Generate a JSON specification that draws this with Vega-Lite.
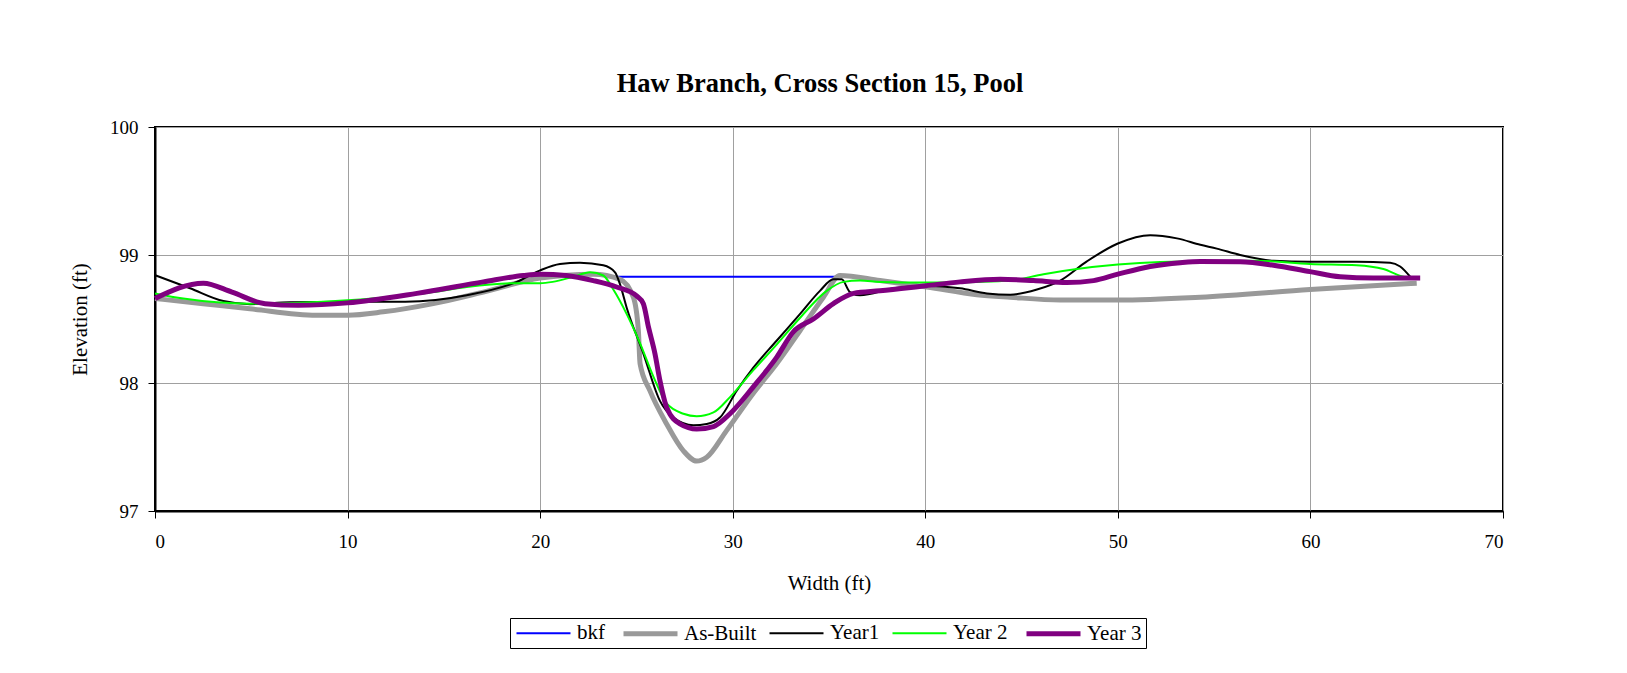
{
  "$schema": "https://vega.github.io/schema/vega-lite/v6.json",
  "width": 1348,
  "height": 384,
  "autosize": {"type": "none"},
  "padding": {"left": 155, "top": 127, "right": 124, "bottom": 162},
  "background": "white",
  "title": {
    "text": "Haw Branch, Cross Section 15, Pool",
    "font": "Liberation Serif",
    "fontSize": 26.5,
    "fontWeight": "bold",
    "color": "black",
    "anchor": "middle",
    "baseline": "alphabetic",
    "offset": 0,
    "dx": -9
  },
  "data": {
    "values": [
      {"s": "bkf", "x": 23.8, "y": 98.83},
      {"s": "bkf", "x": 35.5, "y": 98.83},

      {"s": "As-Built", "x": 0, "y": 98.66},
      {"s": "As-Built", "x": 2.5, "y": 98.62},
      {"s": "As-Built", "x": 4.93, "y": 98.58},
      {"s": "As-Built", "x": 8.38, "y": 98.53},
      {"s": "As-Built", "x": 10, "y": 98.53},
      {"s": "As-Built", "x": 11.85, "y": 98.556},
      {"s": "As-Built", "x": 14.45, "y": 98.62},
      {"s": "As-Built", "x": 17.05, "y": 98.71},
      {"s": "As-Built", "x": 20, "y": 98.82},
      {"s": "As-Built", "x": 22.76, "y": 98.85},
      {"s": "As-Built", "x": 24.15, "y": 98.81},
      {"s": "As-Built", "x": 24.84, "y": 98.67},
      {"s": "As-Built", "x": 25.1, "y": 98.41},
      {"s": "As-Built", "x": 25.19, "y": 98.15},
      {"s": "As-Built", "x": 25.7, "y": 97.94},
      {"s": "As-Built", "x": 26.57, "y": 97.68},
      {"s": "As-Built", "x": 27.44, "y": 97.47},
      {"s": "As-Built", "x": 28.13, "y": 97.39},
      {"s": "As-Built", "x": 28.65, "y": 97.42},
      {"s": "As-Built", "x": 29.69, "y": 97.63},
      {"s": "As-Built", "x": 31.07, "y": 97.92},
      {"s": "As-Built", "x": 32.28, "y": 98.15},
      {"s": "As-Built", "x": 33.5, "y": 98.41},
      {"s": "As-Built", "x": 34.71, "y": 98.67},
      {"s": "As-Built", "x": 35.57, "y": 98.84},
      {"s": "As-Built", "x": 37.65, "y": 98.8},
      {"s": "As-Built", "x": 40.08, "y": 98.75},
      {"s": "As-Built", "x": 42.68, "y": 98.69},
      {"s": "As-Built", "x": 44.41, "y": 98.67},
      {"s": "As-Built", "x": 47.01, "y": 98.648},
      {"s": "As-Built", "x": 50, "y": 98.648},
      {"s": "As-Built", "x": 54.28, "y": 98.67},
      {"s": "As-Built", "x": 59.98, "y": 98.73},
      {"s": "As-Built", "x": 65.52, "y": 98.78},

      {"s": "Year1", "x": 0, "y": 98.842},
      {"s": "Year1", "x": 1.82, "y": 98.74},
      {"s": "Year1", "x": 3.55, "y": 98.64},
      {"s": "Year1", "x": 4.93, "y": 98.616},
      {"s": "Year1", "x": 7, "y": 98.63},
      {"s": "Year1", "x": 10, "y": 98.634},
      {"s": "Year1", "x": 13, "y": 98.635},
      {"s": "Year1", "x": 16.19, "y": 98.686},
      {"s": "Year1", "x": 18.79, "y": 98.79},
      {"s": "Year1", "x": 20, "y": 98.88},
      {"s": "Year1", "x": 21.03, "y": 98.93},
      {"s": "Year1", "x": 22.07, "y": 98.94},
      {"s": "Year1", "x": 23.28, "y": 98.92},
      {"s": "Year1", "x": 23.89, "y": 98.865},
      {"s": "Year1", "x": 24.15, "y": 98.77},
      {"s": "Year1", "x": 24.49, "y": 98.59},
      {"s": "Year1", "x": 25.36, "y": 98.23},
      {"s": "Year1", "x": 26.22, "y": 97.86},
      {"s": "Year1", "x": 26.92, "y": 97.73},
      {"s": "Year1", "x": 27.96, "y": 97.67},
      {"s": "Year1", "x": 28.65, "y": 97.68},
      {"s": "Year1", "x": 29.34, "y": 97.73},
      {"s": "Year1", "x": 30.21, "y": 97.94},
      {"s": "Year1", "x": 31.07, "y": 98.12},
      {"s": "Year1", "x": 32.28, "y": 98.33},
      {"s": "Year1", "x": 33.5, "y": 98.54},
      {"s": "Year1", "x": 34.53, "y": 98.72},
      {"s": "Year1", "x": 35.23, "y": 98.81},
      {"s": "Year1", "x": 35.66, "y": 98.81},
      {"s": "Year1", "x": 36.09, "y": 98.71},
      {"s": "Year1", "x": 36.61, "y": 98.685},
      {"s": "Year1", "x": 38.35, "y": 98.74},
      {"s": "Year1", "x": 40.03, "y": 98.76},
      {"s": "Year1", "x": 41.81, "y": 98.74},
      {"s": "Year1", "x": 43.2, "y": 98.7},
      {"s": "Year1", "x": 44.41, "y": 98.69},
      {"s": "Year1", "x": 45.8, "y": 98.73},
      {"s": "Year1", "x": 47.01, "y": 98.8},
      {"s": "Year1", "x": 48.39, "y": 98.95},
      {"s": "Year1", "x": 50, "y": 99.09},
      {"s": "Year1", "x": 51.68, "y": 99.155},
      {"s": "Year1", "x": 53.07, "y": 99.13},
      {"s": "Year1", "x": 54.28, "y": 99.08},
      {"s": "Year1", "x": 55.14, "y": 99.05},
      {"s": "Year1", "x": 56.35, "y": 99.0},
      {"s": "Year1", "x": 58.08, "y": 98.955},
      {"s": "Year1", "x": 59.98, "y": 98.947},
      {"s": "Year1", "x": 62.4, "y": 98.947},
      {"s": "Year1", "x": 64.14, "y": 98.94},
      {"s": "Year1", "x": 64.66, "y": 98.91},
      {"s": "Year1", "x": 65.18, "y": 98.83},

      {"s": "Year 2", "x": 0, "y": 98.7},
      {"s": "Year 2", "x": 1.47, "y": 98.66},
      {"s": "Year 2", "x": 4.93, "y": 98.62},
      {"s": "Year 2", "x": 10, "y": 98.647},
      {"s": "Year 2", "x": 14.45, "y": 98.71},
      {"s": "Year 2", "x": 16.19, "y": 98.75},
      {"s": "Year 2", "x": 18.79, "y": 98.78},
      {"s": "Year 2", "x": 20, "y": 98.78},
      {"s": "Year 2", "x": 20.65, "y": 98.79},
      {"s": "Year 2", "x": 21.72, "y": 98.83},
      {"s": "Year 2", "x": 22.59, "y": 98.865},
      {"s": "Year 2", "x": 23.28, "y": 98.84},
      {"s": "Year 2", "x": 23.8, "y": 98.73},
      {"s": "Year 2", "x": 24.49, "y": 98.54},
      {"s": "Year 2", "x": 25.19, "y": 98.31},
      {"s": "Year 2", "x": 25.88, "y": 98.05},
      {"s": "Year 2", "x": 26.57, "y": 97.84},
      {"s": "Year 2", "x": 27.44, "y": 97.76},
      {"s": "Year 2", "x": 28.13, "y": 97.74},
      {"s": "Year 2", "x": 29.0, "y": 97.77},
      {"s": "Year 2", "x": 29.86, "y": 97.89},
      {"s": "Year 2", "x": 31.07, "y": 98.1},
      {"s": "Year 2", "x": 32.28, "y": 98.3},
      {"s": "Year 2", "x": 33.5, "y": 98.51},
      {"s": "Year 2", "x": 34.88, "y": 98.72},
      {"s": "Year 2", "x": 35.75, "y": 98.79},
      {"s": "Year 2", "x": 36.61, "y": 98.8},
      {"s": "Year 2", "x": 37.65, "y": 98.79},
      {"s": "Year 2", "x": 40.03, "y": 98.785},
      {"s": "Year 2", "x": 42.68, "y": 98.79},
      {"s": "Year 2", "x": 44.41, "y": 98.8},
      {"s": "Year 2", "x": 46.14, "y": 98.85},
      {"s": "Year 2", "x": 47.87, "y": 98.89},
      {"s": "Year 2", "x": 50, "y": 98.925},
      {"s": "Year 2", "x": 52.2, "y": 98.945},
      {"s": "Year 2", "x": 54.28, "y": 98.95},
      {"s": "Year 2", "x": 57.21, "y": 98.955},
      {"s": "Year 2", "x": 59.98, "y": 98.93},
      {"s": "Year 2", "x": 62.4, "y": 98.92},
      {"s": "Year 2", "x": 63.79, "y": 98.89},
      {"s": "Year 2", "x": 64.83, "y": 98.83},
      {"s": "Year 2", "x": 65.52, "y": 98.82},

      {"s": "Year 3", "x": 0, "y": 98.66},
      {"s": "Year 3", "x": 2.51, "y": 98.78},
      {"s": "Year 3", "x": 4.0, "y": 98.71},
      {"s": "Year 3", "x": 5.71, "y": 98.62},
      {"s": "Year 3", "x": 7.44, "y": 98.608},
      {"s": "Year 3", "x": 10, "y": 98.626},
      {"s": "Year 3", "x": 13.6, "y": 98.7},
      {"s": "Year 3", "x": 17.05, "y": 98.79},
      {"s": "Year 3", "x": 19.13, "y": 98.84},
      {"s": "Year 3", "x": 20, "y": 98.85},
      {"s": "Year 3", "x": 21.35, "y": 98.84},
      {"s": "Year 3", "x": 22.76, "y": 98.8},
      {"s": "Year 3", "x": 23.97, "y": 98.75},
      {"s": "Year 3", "x": 25.01, "y": 98.68},
      {"s": "Year 3", "x": 25.36, "y": 98.62},
      {"s": "Year 3", "x": 25.62, "y": 98.44},
      {"s": "Year 3", "x": 25.96, "y": 98.23},
      {"s": "Year 3", "x": 26.22, "y": 98.02},
      {"s": "Year 3", "x": 26.57, "y": 97.81},
      {"s": "Year 3", "x": 27.26, "y": 97.68},
      {"s": "Year 3", "x": 28.13, "y": 97.64},
      {"s": "Year 3", "x": 29.0, "y": 97.66},
      {"s": "Year 3", "x": 29.86, "y": 97.76},
      {"s": "Year 3", "x": 31.07, "y": 97.97},
      {"s": "Year 3", "x": 32.28, "y": 98.2},
      {"s": "Year 3", "x": 33.15, "y": 98.4},
      {"s": "Year 3", "x": 34.19, "y": 98.5},
      {"s": "Year 3", "x": 35.23, "y": 98.62},
      {"s": "Year 3", "x": 36.27, "y": 98.7},
      {"s": "Year 3", "x": 37.65, "y": 98.72},
      {"s": "Year 3", "x": 40.03, "y": 98.76},
      {"s": "Year 3", "x": 41.81, "y": 98.79},
      {"s": "Year 3", "x": 43.89, "y": 98.81},
      {"s": "Year 3", "x": 45.62, "y": 98.8},
      {"s": "Year 3", "x": 47.35, "y": 98.785},
      {"s": "Year 3", "x": 48.74, "y": 98.8},
      {"s": "Year 3", "x": 50, "y": 98.85},
      {"s": "Year 3", "x": 51.68, "y": 98.91},
      {"s": "Year 3", "x": 53.24, "y": 98.94},
      {"s": "Year 3", "x": 54.28, "y": 98.95},
      {"s": "Year 3", "x": 56.35, "y": 98.947},
      {"s": "Year 3", "x": 58.08, "y": 98.92},
      {"s": "Year 3", "x": 59.98, "y": 98.87},
      {"s": "Year 3", "x": 61.54, "y": 98.83},
      {"s": "Year 3", "x": 63.27, "y": 98.82},
      {"s": "Year 3", "x": 65.7, "y": 98.82}
    ]
  },
  "mark": {"type": "line", "interpolate": "monotone", "strokeCap": "butt", "strokeJoin": "round"},
  "encoding": {
    "x": {
      "field": "x",
      "type": "quantitative",
      "scale": {"domain": [0, 70], "nice": false, "zero": false},
      "axis": {
        "title": "Width (ft)",
        "values": [0, 10, 20, 30, 40, 50, 60, 70],
        "labelPadding": 14,
        "titlePadding": 21
      }
    },
    "y": {
      "field": "y",
      "type": "quantitative",
      "scale": {"domain": [97, 100], "nice": false, "zero": false},
      "axis": {
        "title": "Elevation (ft)",
        "values": [97, 98, 99, 100],
        "labelPadding": 10,
        "titlePadding": 19
      }
    },
    "color": {
      "field": "s",
      "type": "nominal",
      "sort": null,
      "scale": {
        "domain": ["bkf", "As-Built", "Year1", "Year 2", "Year 3"],
        "range": ["#0000FF", "#999999", "#000000", "#00FF00", "#800080"]
      },
      "legend": {
        "title": null,
        "orient": "none",
        "legendX": 355,
        "legendY": 491,
        "direction": "horizontal",
        "columns": 5,
        "symbolType": "M-1,0H5",
        "symbolSize": 324,
        "labelFontSize": 21,
        "labelFont": "Liberation Serif",
        "labelColor": "black",
        "labelOffset": 40,
        "columnPadding": 8,
        "padding": 4,
        "strokeColor": "black",
        "fillColor": "white"
      }
    },
    "strokeWidth": {
      "field": "s",
      "type": "nominal",
      "sort": null,
      "scale": {
        "type": "ordinal",
        "domain": ["bkf", "As-Built", "Year1", "Year 2", "Year 3"],
        "range": [2, 5, 2, 2, 5]
      }
    }
  },
  "config": {
    "font": "Liberation Serif",
    "view": {"stroke": "black", "strokeWidth": 2},
    "axis": {
      "labelFont": "Liberation Serif",
      "labelFontSize": 19,
      "labelColor": "black",
      "titleFont": "Liberation Serif",
      "titleFontSize": 21,
      "titleFontWeight": "normal",
      "titleColor": "black",
      "domainColor": "black",
      "domainWidth": 2,
      "tickColor": "black",
      "tickSize": 7,
      "tickWidth": 1,
      "gridColor": "#a0a0a0",
      "gridWidth": 1,
      "gridOpacity": 1
    }
  }
}
